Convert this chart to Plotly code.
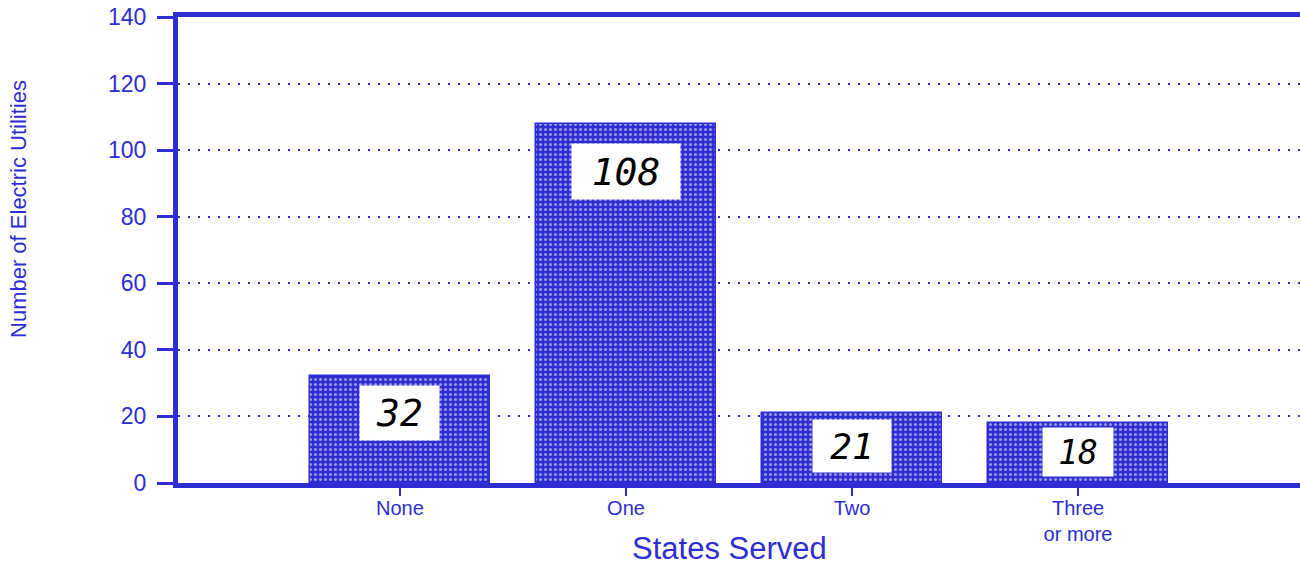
import plotly.graph_objects as go

categories = ["None", "One", "Two", "Three<br>or more"]
values = [32, 108, 21, 18]
labels = ["32", "108", "21", "18"]
y_ticks = [0, 20, 40, 60, 80, 100, 120, 140]

BLUE = "rgb(45,45,210)"

fig = go.Figure()
fig.add_trace(go.Bar(
    x=list(range(len(categories))), y=values, width=0.8,
    marker=dict(color=BLUE, line=dict(color=BLUE, width=1.5),
                pattern=dict(shape=".", fgcolor="white", bgcolor=BLUE, size=5, solidity=0.3)),
    hoverinfo="skip",
))

# label box styling (pixels)
label_sizes = [38, 38, 36, 33]
label_shift = [-37, -48, -33, -29]
label_box = [(79, 54), (108, 55), (78, 52), (70, 48)]
for i, (v, t) in enumerate(zip(values, labels)):
    fig.add_annotation(x=i, y=v, text=t, showarrow=False, yanchor="middle", yshift=label_shift[i],
                       bgcolor="white", borderpad=0, width=label_box[i][0], height=label_box[i][1],
                       align="center", valign="middle",
                       font=dict(family="DejaVu Sans Mono", size=label_sizes[i], color="black", style="italic"))

fig.add_annotation(text="Number of Electric Utilities", xref="paper", yref="paper", x=0, y=0.588,
                   xshift=-159, textangle=-90, showarrow=False, xanchor="center", yanchor="middle",
                   font=dict(size=22, color=BLUE))
fig.add_annotation(text="States Served", xref="x", yref="paper", x=1.46, y=0, yshift=-65,
                   showarrow=False, xanchor="center", yanchor="middle",
                   font=dict(size=31, color=BLUE))

fig.update_layout(
    width=1300, height=569, plot_bgcolor="white", paper_bgcolor="white",
    margin=dict(l=178, r=0, t=17, b=86, autoexpand=False), showlegend=False,
    font=dict(family="Liberation Sans, Arial", color=BLUE),
    bargap=0,
)
fig.update_xaxes(
    range=[-0.982, 3.982], tickmode="array", tickvals=list(range(len(categories))), ticktext=categories,
    showline=True, linewidth=5, linecolor=BLUE, mirror=True, showgrid=False, zeroline=False,
    ticks="outside", ticklen=8, tickwidth=2, tickcolor=BLUE, tickfont=dict(size=20, color=BLUE),
    ticklabelstandoff=-5, automargin=False,
)
fig.update_yaxes(
    range=[0, 140], tickvals=y_ticks, showline=True, linewidth=5, linecolor=BLUE,
    showgrid=True, gridcolor=BLUE, griddash="2px,8px", gridwidth=2, zeroline=False,
    ticks="outside", ticklen=16, tickwidth=3, tickcolor=BLUE, tickfont=dict(size=23, color=BLUE),
    ticklabelstandoff=6, ticklabeloverflow="allow", automargin=False,
)
fig.write_html("out.html", config={"displayModeBar": False},
               post_script="document.body.style.margin='0';")
